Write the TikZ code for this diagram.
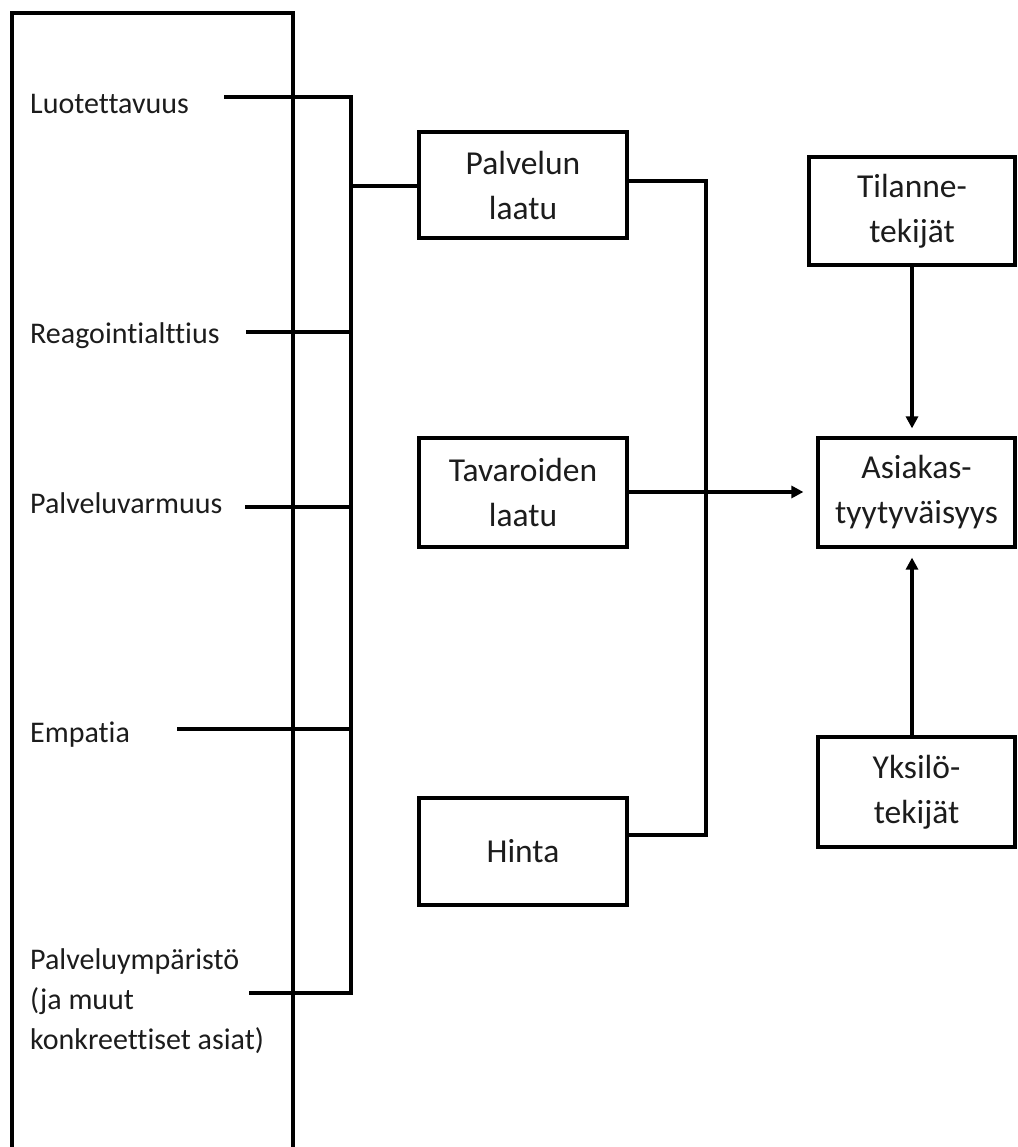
\documentclass[tikz,border=0pt]{standalone}
\usepackage{fontspec}
\setmainfont{Carlito}[Ligatures={NoCommon}]
\usetikzlibrary{arrows.meta}
\definecolor{ink}{RGB}{28,28,28}
\tikzset{
  line/.style={line width=3.2pt, draw=black},
  boxnode/.style={draw=black, line width=3.2pt, inner sep=0pt, align=center,
    text=ink, font=\fontsize{33.5pt}{45pt}\selectfont},
  label/.style={inner sep=0pt, align=left, text=ink,
    font=\fontsize{30pt}{40pt}\selectfont},
  arr/.style={line, -{Triangle[length=12pt,width=12pt]}}
}
\begin{document}
\begin{tikzpicture}[x=1pt,y=-1pt]
\useasboundingbox (0,0) rectangle (1017,1147);
\clip (0,0) rectangle (1017,1147);

% outer frame around the dimension labels
\draw[line] (12,1170) -- (12,13) -- (293,13) -- (293,1170);

% dimension labels
\node[label, anchor=base west] (luo) at (30,114) {Luotettavuus};
\node[label, anchor=base west] (rea) at (30,343) {Reagointialttius};
\node[label, anchor=base west] (pvm) at (30,513) {Palveluvarmuus};
\node[label, anchor=base west] (emp) at (30,742) {Empatia};
\node[label, anchor=north west] (ymp) at (30,948) {Palveluympäristö\\(ja muut\\konkreettiset asiat)};

% factor boxes
\node[boxnode, minimum width=208pt, minimum height=106pt] (pal) at (523,185) {Palvelun\\laatu};
\node[boxnode, minimum width=208pt, minimum height=109pt] (tav) at (523,492.5) {Tavaroiden\\laatu};
\node[boxnode, minimum width=208pt, minimum height=107pt] (hin) at (523,851.5) {Hinta};
\node[boxnode, minimum width=206pt, minimum height=108pt] (til) at (912,211) {Tilanne-\\tekijät};
\node[boxnode, minimum width=197pt, minimum height=109pt] (asi) at (916.5,492.5) {Asiakas-\\tyytyväisyys};
\node[boxnode, minimum width=197pt, minimum height=110pt] (yks) at (916.5,792) {Yksilö-\\tekijät};

% start points of the label lines and the collecting bus
\coordinate (s1) at (224,97);
\coordinate (s2) at (246,332);
\coordinate (s3) at (245,507);
\coordinate (s4) at (177,729);
\coordinate (s5) at (249,993);
\coordinate (bt) at (351,97);
\coordinate (bb) at (351,993);
\coordinate (bj) at (351,186);

\draw[line] (s1) -- (bt) -- (bb) -- (s5);
\draw[line] (s2) -- (s2 -| bt);
\draw[line] (s3) -- (s3 -| bt);
\draw[line] (s4) -- (s4 -| bt);
\draw[line] (bj) -- (bj -| pal.west);

% bracket joining service quality and price
\coordinate (rt) at (706,181);
\coordinate (rb) at (706,835);
\draw[line] (pal.east |- rt) -- (rt) -- (rb) -- (hin.east |- rb);

% arrows into customer satisfaction
\coordinate (ay) at (0,492);
\draw[arr, shorten >=13pt] (tav.east |- ay) -- (asi.west |- ay);
\coordinate (ax) at (912,0);
\draw[arr, shorten >=8pt] (til.south) -- (asi.north -| ax);
\draw[arr, shorten >=9pt] (yks.north -| ax) -- (asi.south -| ax);
\end{tikzpicture}
\end{document}
